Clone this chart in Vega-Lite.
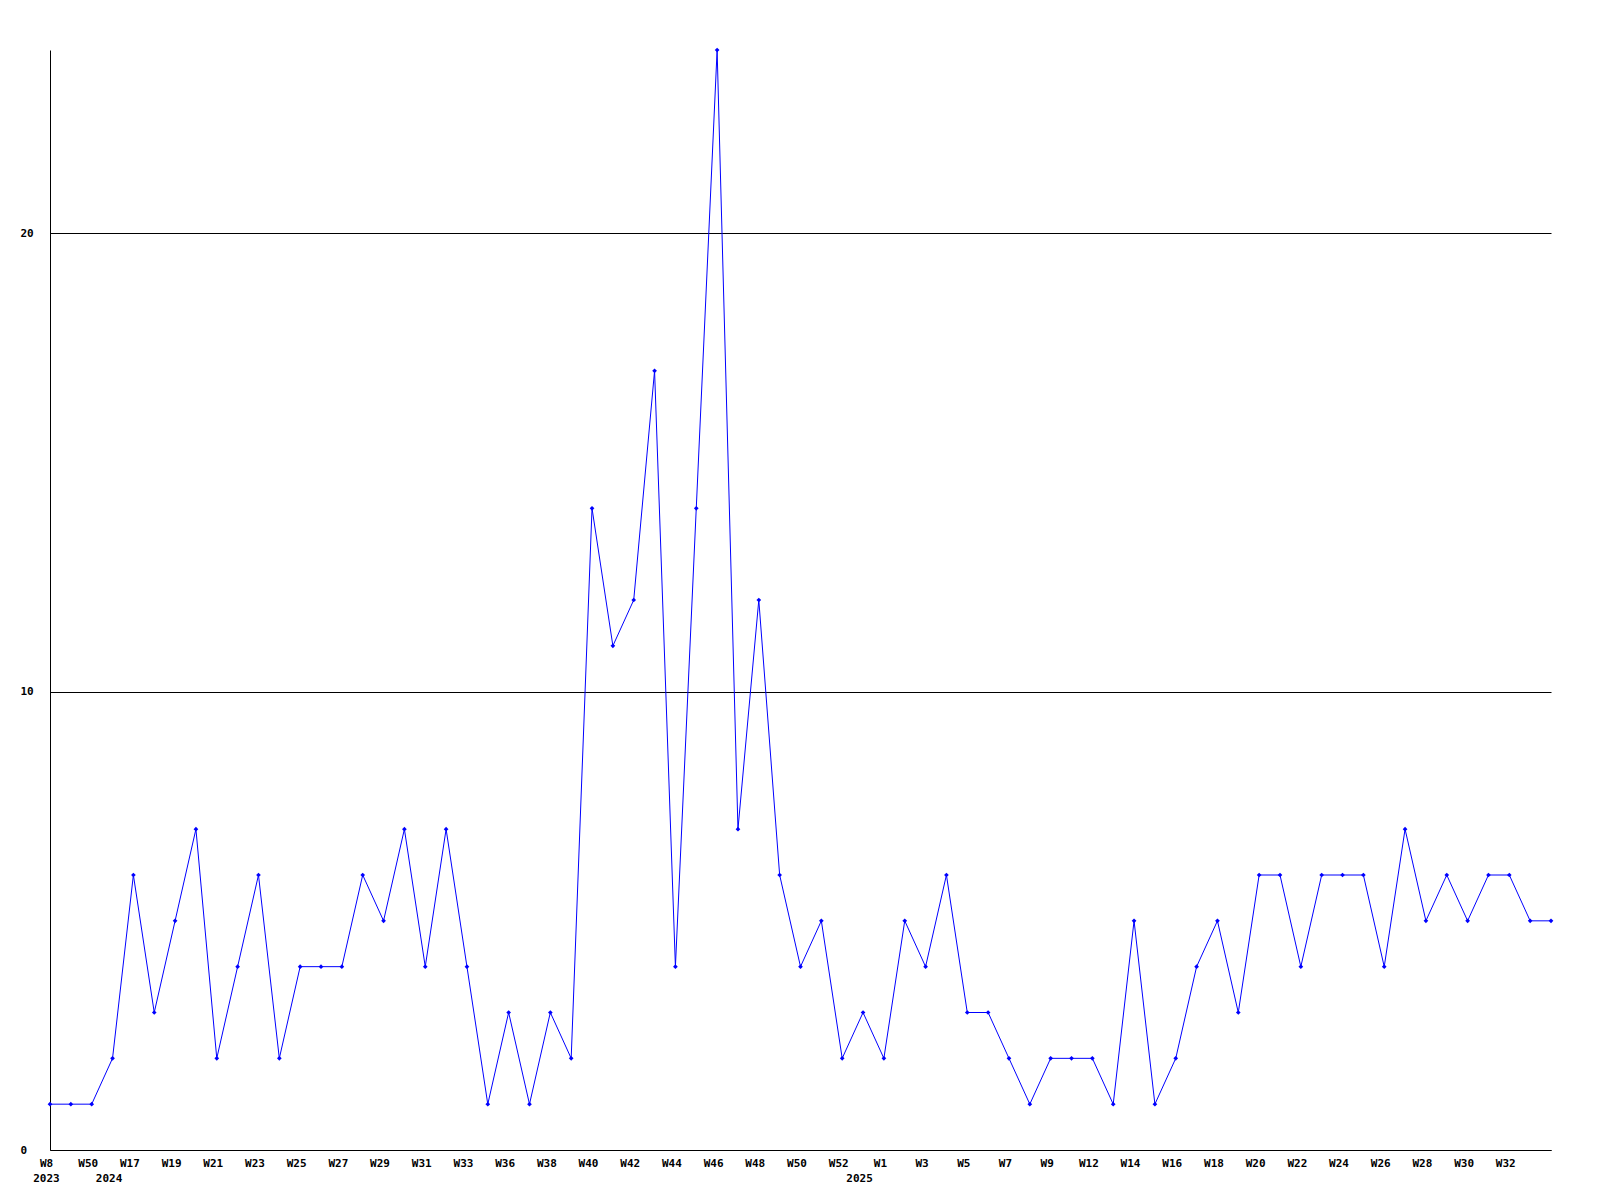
{
  "$schema": "https://vega.github.io/schema/vega-lite/v6.json",
  "width": 1501,
  "height": 1100,
  "autosize": {"type": "none"},
  "padding": {"left": 50, "top": 50, "right": 49, "bottom": 50},
  "background": "white",
  "config": {"view": {"stroke": null}},
  "data": {"values": [
    {"k": "p00|W8|2023", "v": 1},
    {"k": "p01|", "v": 1},
    {"k": "p02|W50", "v": 1},
    {"k": "p03||2024", "v": 2},
    {"k": "p04|W17", "v": 6},
    {"k": "p05|", "v": 3},
    {"k": "p06|W19", "v": 5},
    {"k": "p07|", "v": 7},
    {"k": "p08|W21", "v": 2},
    {"k": "p09|", "v": 4},
    {"k": "p10|W23", "v": 6},
    {"k": "p11|", "v": 2},
    {"k": "p12|W25", "v": 4},
    {"k": "p13|", "v": 4},
    {"k": "p14|W27", "v": 4},
    {"k": "p15|", "v": 6},
    {"k": "p16|W29", "v": 5},
    {"k": "p17|", "v": 7},
    {"k": "p18|W31", "v": 4},
    {"k": "p19|", "v": 7},
    {"k": "p20|W33", "v": 4},
    {"k": "p21|", "v": 1},
    {"k": "p22|W36", "v": 3},
    {"k": "p23|", "v": 1},
    {"k": "p24|W38", "v": 3},
    {"k": "p25|", "v": 2},
    {"k": "p26|W40", "v": 14},
    {"k": "p27|", "v": 11},
    {"k": "p28|W42", "v": 12},
    {"k": "p29|", "v": 17},
    {"k": "p30|W44", "v": 4},
    {"k": "p31|", "v": 14},
    {"k": "p32|W46", "v": 24},
    {"k": "p33|", "v": 7},
    {"k": "p34|W48", "v": 12},
    {"k": "p35|", "v": 6},
    {"k": "p36|W50", "v": 4},
    {"k": "p37|", "v": 5},
    {"k": "p38|W52", "v": 2},
    {"k": "p39||2025", "v": 3},
    {"k": "p40|W1", "v": 2},
    {"k": "p41|", "v": 5},
    {"k": "p42|W3", "v": 4},
    {"k": "p43|", "v": 6},
    {"k": "p44|W5", "v": 3},
    {"k": "p45|", "v": 3},
    {"k": "p46|W7", "v": 2},
    {"k": "p47|", "v": 1},
    {"k": "p48|W9", "v": 2},
    {"k": "p49|", "v": 2},
    {"k": "p50|W12", "v": 2},
    {"k": "p51|", "v": 1},
    {"k": "p52|W14", "v": 5},
    {"k": "p53|", "v": 1},
    {"k": "p54|W16", "v": 2},
    {"k": "p55|", "v": 4},
    {"k": "p56|W18", "v": 5},
    {"k": "p57|", "v": 3},
    {"k": "p58|W20", "v": 6},
    {"k": "p59|", "v": 6},
    {"k": "p60|W22", "v": 4},
    {"k": "p61|", "v": 6},
    {"k": "p62|W24", "v": 6},
    {"k": "p63|", "v": 6},
    {"k": "p64|W26", "v": 4},
    {"k": "p65|", "v": 7},
    {"k": "p66|W28", "v": 5},
    {"k": "p67|", "v": 6},
    {"k": "p68|W30", "v": 5},
    {"k": "p69|", "v": 6},
    {"k": "p70|W32", "v": 6},
    {"k": "p71|", "v": 5},
    {"k": "p72|", "v": 5}
  ]},
  "encoding": {
    "x": {
      "field": "k",
      "type": "ordinal",
      "sort": null,
      "scale": {"type": "point", "padding": 0},
      "axis": {
        "title": null,
        "ticks": false,
        "tickSize": 0,
        "domainColor": "black",
        "domainWidth": 1,
        "labelAngle": 0,
        "labelOverlap": false,
        "labelBaseline": "top",
        "labelPadding": 7,
        "labelOffset": -4,
        "labelLineHeight": 15,
        "labelFont": "DejaVu Sans Mono",
        "labelFontWeight": "bold",
        "labelFontSize": 11,
        "labelColor": "black",
        "labelExpr": "slice(split(datum.value, '|'), 1)"
      }
    },
    "y": {
      "field": "v",
      "type": "quantitative",
      "scale": {"domain": [0, 24], "nice": false, "zero": true},
      "axis": {
        "title": null,
        "values": [0, 10, 20],
        "ticks": false,
        "tickSize": 0,
        "grid": true,
        "gridColor": "black",
        "gridOpacity": 1,
        "gridWidth": 1,
        "domainColor": "black",
        "labelAlign": "left",
        "labelPadding": 30,
        "labelBaseline": "middle",
        "labelFont": "DejaVu Sans Mono",
        "labelFontWeight": "bold",
        "labelFontSize": 11,
        "labelColor": "black"
      }
    }
  },
  "layer": [
    {"mark": {"type": "line", "color": "#0000ff", "strokeWidth": 1}},
    {"mark": {"type": "point", "shape": "diamond", "filled": true, "color": "#0000ff", "size": 22, "opacity": 1}}
  ]
}
